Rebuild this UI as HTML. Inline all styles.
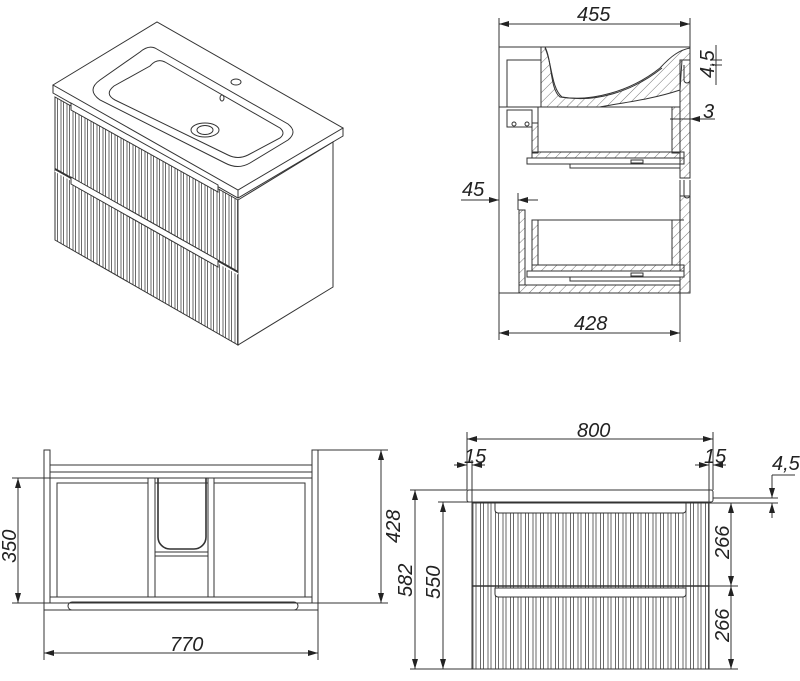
<!DOCTYPE html>
<html><head><meta charset="utf-8"><style>
html,body{margin:0;padding:0;background:#fff}
svg{display:block}
text{font-family:"Liberation Sans Narrow","Liberation Sans","DejaVu Sans",sans-serif;font-style:italic;fill:#222;font-size:20px}
</style></head><body>
<svg width="800" height="681" viewBox="0 0 800 681" xmlns="http://www.w3.org/2000/svg">
<defs>
<pattern id="h" width="7" height="7" patternUnits="userSpaceOnUse" patternTransform="rotate(45)"><line x1="0" y1="0" x2="0" y2="7" stroke="#555" stroke-width="0.8"/></pattern>
<pattern id="fl" width="6" height="10" patternUnits="userSpaceOnUse"><line x1="1" y1="0" x2="1" y2="10" stroke="#444" stroke-width="0.8"/><line x1="3.5" y1="0" x2="3.5" y2="10" stroke="#444" stroke-width="0.8"/></pattern>
<pattern id="fl2" width="7.5" height="10" patternUnits="userSpaceOnUse" x="472"><line x1="1" y1="0" x2="1" y2="10" stroke="#444" stroke-width="0.8"/><line x1="4" y1="0" x2="4" y2="10" stroke="#444" stroke-width="0.8"/></pattern>
<marker id="a" viewBox="0 0 10 6" refX="10" refY="3" markerWidth="10" markerHeight="6" orient="auto-start-reverse" markerUnits="userSpaceOnUse"><path d="M0,0L10,3L0,6z" fill="#222"/></marker>
</defs>
<g fill="none" stroke="#333" stroke-width="1">
<!-- ISO VIEW -->
<polygon points="53,85 157,22 343,128 238,190" fill="#fff"/>
<polyline points="53,85 53,93 238,198 343,136 343,128"/>
<polyline points="238,190 238,198"/>
<polygon points="55,97 238,200 238,345 55,240" fill="url(#fl)"/>
<polygon points="238,200 333,142 333,287 238,345" fill="#fff"/>
<line x1="55" y1="169" x2="238" y2="272" stroke-width="2"/>
<line x1="55" y1="171" x2="238" y2="274" stroke="#fff" stroke-width="1.5"/>
<polygon points="71,103 218,185 218,192 71,110" fill="#fff"/>
<polygon points="71,177 218,260 218,267 71,184" fill="#fff"/>
<path d="M155,48L288,124Q298,132 288,140L250,163Q238,170 225,163L100,100Q86,90 100,80L140,52Q148,45 155,48Z" fill="#fff"/>
<path d="M165,62L280,128Q286,133 280,138L248,155Q238,160 228,155L115,100Q104,94 114,86L150,66Q157,58 165,62Z" fill="#fff"/>
<ellipse cx="205" cy="130" rx="14" ry="7"/>
<ellipse cx="205" cy="130" rx="8" ry="4.5"/>
<ellipse cx="236" cy="82" rx="5" ry="3"/>
<ellipse cx="222" cy="98" rx="2" ry="3"/>

<!-- SIDE SECTION -->
<line x1="499" y1="18" x2="499" y2="340"/>
<line x1="690" y1="18" x2="690" y2="120"/>
<line x1="680" y1="180" x2="680" y2="342"/>
<line x1="499" y1="24" x2="690" y2="24" marker-start="url(#a)" marker-end="url(#a)"/>
<line x1="499" y1="333" x2="680" y2="333" marker-start="url(#a)" marker-end="url(#a)"/>
<line x1="499" y1="47" x2="690" y2="47"/>
<path d="M499,47H545C552,60 550,90 560,97C590,102 630,92 660,68C672,55 680,50 690,48V60H682L680,90C650,100 620,103 600,107H507V60H541V47H499V107" fill="url(#h)"/>
<rect x="507" y="60" width="34" height="47" fill="#fff"/>
<path d="M545,48C552,62 551,88 562,97C595,103 632,92 662,68" />
<line x1="499" y1="107" x2="680" y2="107"/>
<rect x="507" y="110" width="25" height="17" fill="#fff"/>
<circle cx="514" cy="124" r="2"/><circle cx="527" cy="124" r="2"/>
<rect x="532" y="123" width="6" height="30" fill="url(#h)"/>
<line x1="538" y1="107" x2="538" y2="123"/>
<rect x="672" y="107" width="8" height="46" fill="url(#h)"/>
<rect x="532" y="152" width="152" height="6" fill="url(#h)"/>
<rect x="527" y="158" width="157" height="6" fill="#fff"/>
<rect x="570" y="164" width="110" height="4"/>
<rect x="631" y="160" width="12" height="3"/>
<rect x="680" y="60" width="10" height="118" fill="url(#h)"/>
<rect x="680" y="196" width="10" height="97" fill="url(#h)"/>
<path d="M684,65v15a3,3 0 0 0 6,0v-15M684,180v15a3,3 0 0 0 6,0v-15"/>
<rect x="519" y="210" width="6" height="75" fill="url(#h)"/>
<line x1="532" y1="220" x2="684" y2="220"/>
<rect x="532" y="220" width="6" height="45" fill="url(#h)"/>
<rect x="672" y="220" width="8" height="45" fill="url(#h)"/>
<rect x="532" y="265" width="152" height="6" fill="url(#h)"/>
<rect x="527" y="271" width="157" height="6" fill="#fff"/>
<rect x="570" y="277" width="110" height="4"/>
<rect x="631" y="273" width="12" height="3"/>
<rect x="519" y="285" width="161" height="8" fill="url(#h)"/>
<line x1="499" y1="293" x2="680" y2="293"/>
<line x1="461" y1="200" x2="499" y2="200" marker-end="url(#a)"/>
<line x1="538" y1="200" x2="518" y2="200" marker-end="url(#a)"/>
<line x1="518" y1="193" x2="518" y2="210"/>
<line x1="670" y1="119" x2="690" y2="119"/>
<line x1="715" y1="119" x2="690" y2="119" marker-end="url(#a)"/>
<line x1="716" y1="45" x2="716" y2="85"/>
<line x1="710" y1="60" x2="722" y2="60"/><line x1="710" y1="65" x2="722" y2="65"/>

<!-- FRONT (BACK) VIEW bottom-left -->
<rect x="44" y="450" width="6" height="153"/>
<rect x="312" y="450" width="6" height="153"/>
<rect x="50" y="465" width="262" height="7"/>
<rect x="50" y="478" width="262" height="119"/>
<rect x="57" y="483" width="91" height="114"/>
<rect x="214" y="483" width="91" height="114"/>
<line x1="148" y1="478" x2="148" y2="597"/><line x1="155" y1="478" x2="155" y2="597"/>
<line x1="208" y1="478" x2="208" y2="597"/><line x1="214" y1="478" x2="214" y2="597"/>
<line x1="155" y1="483" x2="208" y2="483"/>
<path d="M158,478V537a12,12 0 0 0 12,12H194a12,12 0 0 0 12,-12V478" stroke-width="1.6"/>
<rect x="155" y="552" width="53" height="4"/>
<rect x="44" y="603" width="274" height="7"/>
<path d="M72,602H294a4,4 0 0 1 0,8H72a4,4 0 0 1 0,-8z"/>
<line x1="12" y1="478" x2="50" y2="478"/>
<line x1="12" y1="603" x2="44" y2="603"/>
<line x1="18" y1="478" x2="18" y2="603" marker-start="url(#a)" marker-end="url(#a)"/>
<line x1="318" y1="450" x2="388" y2="450"/>
<line x1="318" y1="603" x2="388" y2="603"/>
<line x1="381" y1="450" x2="381" y2="603" marker-start="url(#a)" marker-end="url(#a)"/>
<line x1="44" y1="610" x2="44" y2="660"/><line x1="318" y1="610" x2="318" y2="660"/>
<line x1="44" y1="653" x2="318" y2="653" marker-start="url(#a)" marker-end="url(#a)"/>

<!-- FRONT VIEW bottom-right -->
<rect x="467" y="490" width="246" height="12" rx="2" fill="#fff"/>
<rect x="472" y="503" width="237" height="166" fill="url(#fl2)"/>
<line x1="472" y1="586" x2="709" y2="586" stroke-width="1.5"/>
<path d="M495,503V510a3,3 0 0 0 3,3H683a3,3 0 0 0 3,-3V503z" fill="#fff"/>
<path d="M495,588V594a3,3 0 0 0 3,3H683a3,3 0 0 0 3,-3V588z" fill="#fff"/>
<line x1="467" y1="432" x2="467" y2="490"/><line x1="713" y1="432" x2="713" y2="490"/>
<line x1="467" y1="439" x2="713" y2="439" marker-start="url(#a)" marker-end="url(#a)"/>
<line x1="472" y1="460" x2="472" y2="503"/><line x1="709" y1="460" x2="709" y2="503"/>
<line x1="454" y1="465" x2="467" y2="465" marker-end="url(#a)"/><line x1="485" y1="465" x2="472" y2="465" marker-end="url(#a)"/>
<line x1="695" y1="465" x2="709" y2="465" marker-end="url(#a)"/><line x1="726" y1="465" x2="713" y2="465" marker-end="url(#a)"/>
<line x1="410" y1="490" x2="467" y2="490"/>
<line x1="438" y1="502" x2="472" y2="502"/>
<line x1="410" y1="669" x2="472" y2="669"/>
<line x1="415" y1="490" x2="415" y2="669" marker-start="url(#a)" marker-end="url(#a)"/>
<line x1="443" y1="502" x2="443" y2="669" marker-start="url(#a)" marker-end="url(#a)"/>
<line x1="709" y1="503" x2="778" y2="503"/>
<line x1="709" y1="586" x2="738" y2="586"/>
<line x1="709" y1="669" x2="738" y2="669"/>
<line x1="731" y1="503" x2="731" y2="586" marker-start="url(#a)" marker-end="url(#a)"/>
<line x1="731" y1="586" x2="731" y2="669" marker-start="url(#a)" marker-end="url(#a)"/>
<line x1="713" y1="498" x2="778" y2="498"/>
<line x1="772" y1="475" x2="772" y2="498" marker-end="url(#a)"/>
<line x1="772" y1="518" x2="772" y2="503" marker-end="url(#a)"/>
<line x1="772" y1="475" x2="795" y2="475"/>
</g>
<g>
<text x="577" y="21">455</text>
<text x="574" y="330">428</text>
<text x="462" y="196">45</text>
<text x="703" y="118">3</text>
<text transform="translate(714,78) rotate(-90)" font-size="17">4,5</text>
<text x="170" y="651">770</text>
<text transform="translate(16,563) rotate(-90)">350</text>
<text transform="translate(400,543) rotate(-90)">428</text>
<text x="577" y="437" font-size="17">800</text>
<text x="464" y="463" font-size="15">15</text>
<text x="704" y="463" font-size="15">15</text>
<text x="772" y="470" font-size="16">4,5</text>
<text transform="translate(412,597) rotate(-90)" font-size="17">582</text>
<text transform="translate(440,599) rotate(-90)" font-size="17">550</text>
<text transform="translate(729,559) rotate(-90)" font-size="17">266</text>
<text transform="translate(729,642) rotate(-90)" font-size="17">266</text>
</g>
</svg>
</body></html>
